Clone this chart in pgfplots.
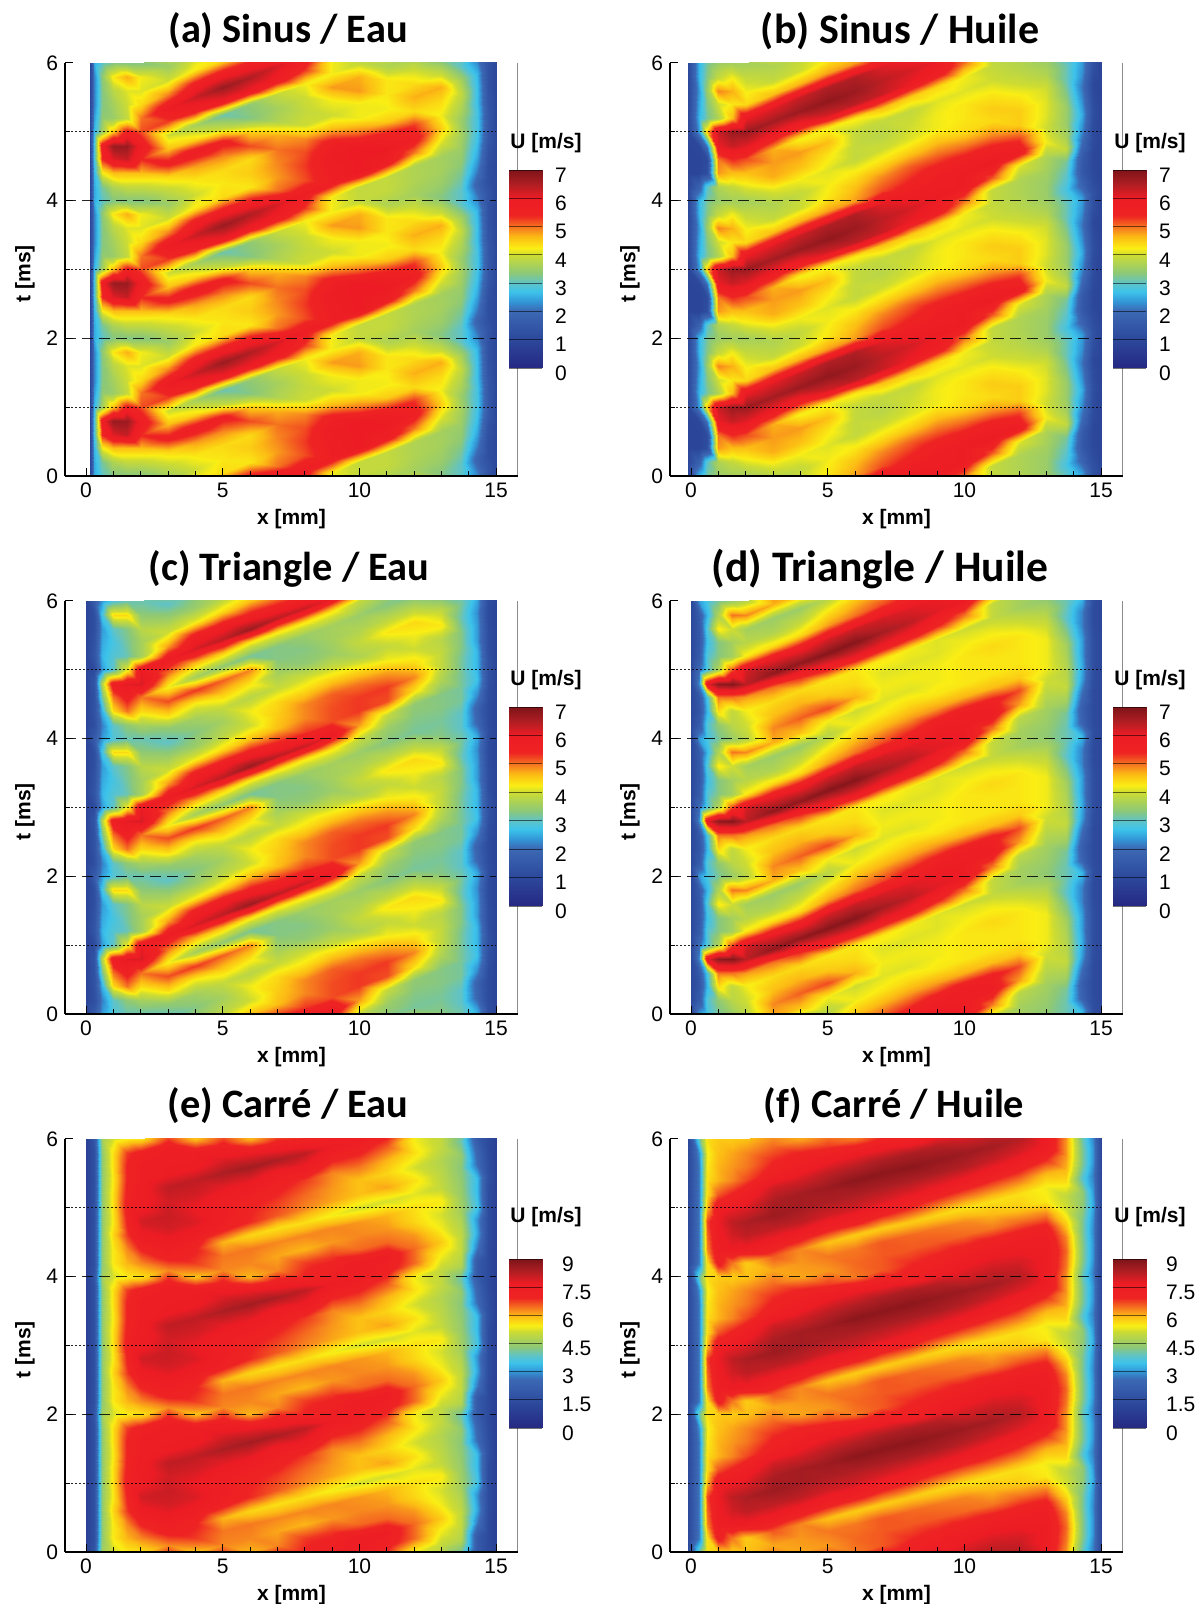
\documentclass[border=0pt]{standalone}
\usepackage{pgfplots}
\pgfplotsset{compat=1.18}
\usepackage{fontspec}
\setmainfont{Liberation Sans}
\newfontfamily\titlefont{Carlito}
\pgfplotsset{
  colormap={tec}{
    rgb255(0pt)=(38,40,130) rgb255(100pt)=(44,72,155) rgb255(203pt)=(60,105,180)
    rgb255(235pt)=(50,150,215) rgb255(270pt)=(60,195,235) rgb255(300pt)=(95,195,200)
    rgb255(335pt)=(140,200,120) rgb255(400pt)=(205,220,50) rgb255(424pt)=(250,238,20)
    rgb255(465pt)=(252,185,20) rgb255(490pt)=(247,135,30) rgb255(540pt)=(238,35,35)
    rgb255(600pt)=(237,28,36) rgb255(650pt)=(175,30,35) rgb255(700pt)=(125,20,25)},
  heat/.style={surf,shader=interp,point meta=explicit,mesh/cols=21},
  panel/.style={
    scale only axis,width=226.5pt,height=206.5pt,anchor=south west,
    xmin=-0.77,xmax=15.8,ymin=0,ymax=6,
    axis x line*=bottom,axis y line*=left,axis line style={-,line width=0.85pt},
    xtick={0,5,10,15},ytick={0,2,4,6},
    minor xtick={1,2,3,4,6,7,8,9,11,12,13,14},minor ytick={1,3,5},
    major tick length=4pt,minor tick length=2.5pt,
    tick style={black,line width=0.5pt},
    tick label style={font=\fontsize{10.5}{12}\selectfont},
    /pgf/number format/assume math mode=true,
    xlabel={x [mm]},ylabel={t [ms]},
    every axis x label/.style={at={(axis description cs:0.5,0)},anchor=center,yshift=-21.5pt,font=\fontsize{10.5}{12}\selectfont\bfseries},
    every axis y label/.style={at={(axis description cs:0,0.49)},anchor=center,rotate=90,yshift=20pt,font=\fontsize{10.5}{12}\selectfont\bfseries},
    axis on top,point meta min=0,colormap name=tec},
  cbar/.style={
    scale only axis,width=16.5pt,anchor=south west,
    xmin=0,xmax=1,xtick=\empty,
    axis x line*=bottom,axis y line*=right,
    axis line style={draw=none},
    colormap name=tec,
    major tick length=0pt,minor tick length=0pt,ymajorgrids,
    grid style={black,opacity=0.55,line width=0.4pt},
    tick label style={font=\fontsize{10.5}{12}\selectfont,yshift=-2.5pt},
    /pgf/number format/assume math mode=true,
    axis on top},
  hl/.style={black,opacity=0.85,line width=0.55pt},
  ln1/.style={hl,dash pattern=on 1pt off 1pt},
  ln2/.style={hl,dash pattern=on 5.5pt off 3pt},
}
% rows follow the slanted bands: a row read at s lies at t = s + k*max(x-2,0)
\newcommand\buildheat[4]{%
  \global\let#1\empty
  \foreach \off in {-2,0,2,4,6}{%
    \foreach \tz/\vals in {#4}{%
      \pgfmathsetmacro\T{\off+\tz}%
      \ifdim\T pt>6.01pt\else
        \foreach \v [count=\c from 0] in \vals {%
          \pgfmathparse{{#2}[\c]}\let\X\pgfmathresult
          \pgfmathsetmacro\Y{\T+#3*max(\X-2,0)}%
          \xdef#1{#1 (\X,\Y) [\v]}%
        }%
      \fi
    }%
  }%
}
\newcommand\plotheat[1]{\edef\temp{\noexpand\addplot[heat] coordinates {#1};}\temp}
\newcommand\guides{%
  \addplot[ln1] coordinates {(-0.7,1)(15,1)};
  \addplot[ln1] coordinates {(-0.7,3)(15,3)};
  \addplot[ln1] coordinates {(-0.7,5)(15,5)};
  \addplot[ln2] coordinates {(-0.77,2)(15,2)};
  \addplot[ln2] coordinates {(-0.77,4)(15,4)};
  \addplot[black!45,line width=0.5pt] coordinates {(15.78,0)(15.78,6)};
}
\buildheat{\dataA}{0.15,0.3,0.6,1,1.5,2,3,4,5,6,7,8,9,10,11,12,13,13.7,14.3,14.7,15}{0.15}{
0.0/{0.9,2.5,3.0,3.3,3.3,3.3,3.9,4.3,4.4,4.4,5.0,4.9,4.6,4.2,4.2,4.7,4.7,3.6,2.6,1.3,1.0},
0.2/{0.9,2.5,3.2,3.7,3.9,3.9,4.4,4.8,4.9,5.2,4.7,4.0,4.0,4.2,4.3,4.4,3.9,3.0,2.2,1.4,1.0},
0.4/{0.9,2.6,4.2,4.6,4.6,4.6,5.6,5.8,5.6,4.5,3.7,3.9,4.2,4.8,4.3,4.0,3.3,3.0,1.8,1.2,1.0},
0.6/{0.9,2.8,5.4,6.1,6.3,5.4,4.6,4.4,3.9,3.3,3.6,4.0,4.8,4.7,3.7,3.6,3.5,3.2,2.2,1.2,1.0},
0.8/{0.9,2.8,5.8,6.7,6.7,5.8,4.0,3.6,3.1,3.4,3.9,4.2,4.2,3.9,3.9,3.7,3.6,3.4,2.5,1.3,1.0},
1.0/{0.9,2.6,3.6,4.6,5.6,5.2,5.3,5.6,5.9,5.9,5.8,5.3,4.2,3.9,3.9,3.7,3.6,3.5,2.7,1.5,1.0},
1.2/{0.9,2.4,3.4,3.5,3.9,5.0,5.9,6.3,6.7,6.5,6.2,5.8,5.7,6.0,5.7,5.0,4.1,3.6,2.8,1.5,1.0},
1.4/{0.9,2.2,3.3,3.6,4.0,4.4,4.9,5.6,5.7,5.6,5.0,5.2,5.8,6.0,6.0,5.7,4.5,3.5,2.8,1.5,1.0},
1.6/{0.9,2.2,3.3,3.8,4.1,4.1,4.0,4.3,4.4,4.3,4.8,5.3,5.9,6.0,5.6,5.3,4.2,3.7,2.7,1.4,1.0},
1.8/{0.9,2.2,3.4,4.3,4.7,4.2,3.5,4.0,4.3,4.5,4.9,5.2,5.6,5.0,4.5,4.4,4.4,3.9,2.7,1.3,1.0}}
\buildheat{\dataB}{-0.1,0.3,0.6,1,1.5,2,3,4,5,6,7,8,9,10,11,12,13,13.7,14.3,14.7,15}{0.15}{
0.0/{1.0,2.6,3.2,3.5,3.6,3.6,4.1,4.2,4.1,3.9,4.0,4.1,4.2,4.3,4.5,4.3,4.0,3.1,2.3,1.2,0.9},
0.2/{1.0,1.8,3.0,3.7,3.9,4.1,4.7,4.6,4.3,3.9,3.8,4.0,4.2,4.3,4.3,4.0,3.7,3.1,2.4,1.3,1.0},
0.4/{0.9,0.9,1.2,4.8,4.6,4.6,4.8,4.8,4.6,3.9,3.9,3.9,4.1,4.1,4.0,3.8,3.5,2.8,1.8,1.1,0.9},
0.6/{0.9,0.9,1.1,5.0,5.4,5.2,4.7,4.2,4.2,4.3,4.6,4.5,4.4,4.2,3.9,3.7,3.5,3.0,1.5,1.0,0.9},
0.8/{0.9,1.0,2.2,6.0,6.3,6.1,5.9,5.8,6.2,6.4,6.3,6.0,5.8,5.0,3.9,3.7,3.6,3.2,1.6,1.0,0.9},
1.0/{1.0,2.4,4.6,6.3,6.7,6.7,6.6,6.7,6.8,6.7,6.4,6.2,6.0,5.9,5.2,4.1,3.7,3.9,2.0,1.1,0.9},
1.2/{1.0,2.6,3.2,3.7,4.6,6.0,6.1,6.3,6.5,6.5,6.1,5.8,5.8,5.9,6.0,5.8,4.2,3.6,2.3,1.1,0.9},
1.4/{1.0,2.5,3.3,4.0,4.3,4.4,4.6,4.7,4.8,4.8,5.2,5.4,5.6,5.6,5.6,5.3,4.0,3.5,2.5,1.2,0.9},
1.6/{1.0,2.4,3.5,4.9,4.7,4.2,3.9,4.0,4.3,4.6,4.9,5.1,5.1,5.0,4.9,4.5,4.1,3.5,2.3,1.1,0.9},
1.8/{1.0,2.6,3.3,3.9,4.2,3.9,3.7,3.9,4.2,4.3,4.4,4.5,4.6,4.4,4.4,4.5,4.1,3.3,2.1,1.0,0.9}}
\buildheat{\dataC}{0,0.3,0.6,1,1.5,2,3,4,5,6,7,8,9,10,11,12,13,13.7,14.3,14.7,15}{0.15}{
0.0/{0.9,1.6,2.4,2.9,3.1,3.1,3.4,3.6,3.9,3.8,3.9,4.0,3.9,3.7,3.9,4.2,4.3,3.1,2.3,1.1,0.9},
0.2/{0.9,1.2,2.2,3.0,3.4,3.6,4.4,4.2,4.5,4.3,3.6,3.4,3.5,3.9,4.3,4.4,3.9,3.2,2.5,1.2,0.9},
0.4/{0.9,1.3,2.6,4.4,5.0,4.4,5.2,5.3,5.1,4.9,3.3,3.3,3.6,3.7,3.8,3.8,3.3,3.0,1.9,1.1,0.9},
0.6/{0.9,1.3,3.2,5.0,5.6,5.0,4.2,3.6,3.4,3.2,3.3,3.5,3.6,3.5,3.3,3.2,3.2,3.0,1.8,1.1,0.9},
0.8/{0.9,1.4,3.8,5.8,6.1,6.2,5.0,4.6,4.5,4.3,4.3,4.3,4.3,3.9,3.5,3.3,3.3,3.2,2.3,1.2,0.9},
1.0/{0.9,1.1,2.4,3.0,4.2,6.0,5.9,6.2,6.4,6.7,6.4,6.3,6.0,4.8,3.9,3.4,3.3,3.2,2.7,1.3,0.9},
1.2/{0.9,1.4,2.6,2.9,3.1,3.6,4.8,5.6,5.7,5.6,5.4,5.3,5.2,5.3,5.2,4.4,3.7,3.2,2.6,1.3,0.9},
1.4/{0.9,1.3,2.5,2.8,3.2,3.6,4.0,4.2,4.4,4.6,4.6,4.9,5.2,5.3,5.3,4.9,3.9,3.2,2.6,1.2,0.9},
1.6/{0.9,1.2,2.4,3.0,3.3,3.8,3.5,3.5,3.8,4.0,4.5,4.9,5.1,5.0,4.8,4.4,3.9,3.3,2.4,1.2,0.9},
1.8/{0.9,1.2,2.8,4.4,4.4,3.4,3.0,3.3,3.6,4.2,4.4,4.4,4.5,4.4,4.2,4.0,3.8,3.3,2.4,1.1,0.9}}
\buildheat{\dataD}{0,0.3,0.6,1,1.5,2,3,4,5,6,7,8,9,10,11,12,13,13.7,14.3,14.7,15}{0.15}{
0.0/{1.0,2.4,2.8,3.2,3.5,3.8,4.9,5.1,5.2,4.7,4.2,4.2,4.2,4.3,4.4,4.3,4.0,3.0,2.2,1.1,1.0},
0.2/{1.0,1.6,2.9,3.4,3.8,4.0,4.6,4.7,4.5,4.4,4.1,4.1,4.1,4.2,4.2,4.0,3.7,3.1,2.6,1.2,1.0},
0.4/{1.0,1.4,2.6,4.4,3.9,4.2,4.4,4.4,4.3,4.3,4.3,4.2,4.1,4.0,3.9,3.6,3.4,3.1,1.8,1.1,1.0},
0.6/{1.0,1.5,2.8,5.0,5.0,4.8,5.0,5.4,5.8,6.0,5.9,5.8,5.5,5.0,3.9,3.6,3.5,3.2,1.7,1.1,1.0},
0.8/{1.0,2.3,6.0,6.8,6.9,6.4,6.8,6.8,6.9,6.9,6.6,6.4,6.1,6.0,5.0,3.8,3.6,3.6,2.0,1.1,1.0},
1.0/{1.0,2.0,2.9,3.7,5.2,6.2,6.0,5.9,6.2,6.3,6.2,6.1,6.0,5.9,5.8,4.8,3.8,3.9,2.4,1.2,1.0},
1.2/{1.0,1.6,2.9,3.3,3.6,4.3,4.4,4.4,4.8,5.0,5.2,5.4,5.6,5.7,5.6,5.2,4.0,3.8,2.5,1.2,1.0},
1.4/{1.0,1.5,2.7,3.3,3.6,3.8,3.7,3.9,4.3,4.6,4.7,4.8,4.8,4.7,4.6,4.5,4.2,3.7,2.4,1.2,1.0},
1.6/{1.0,1.5,2.9,4.3,4.0,3.6,3.5,3.5,3.8,4.2,4.3,4.4,4.3,4.3,4.3,4.3,4.2,3.6,2.4,1.2,1.0},
1.8/{1.0,1.6,2.6,3.7,5.0,4.9,4.7,4.6,4.2,4.0,4.1,4.1,4.2,4.3,4.3,4.3,4.2,3.3,2.2,1.1,1.0}}
\buildheat{\dataE}{0,0.3,0.6,1,1.5,2,3,4,5,6,7,8,9,10,11,12,13,13.7,14.3,14.7,15}{0.1}{
0.0/{1.0,1.8,4.6,5.2,5.5,5.6,6.3,6.8,6.4,6.4,6.3,6.3,6.3,6.2,6.0,5.6,5.5,4.5,3.4,1.5,1.0},
0.2/{1.0,1.6,4.4,5.5,6.0,6.3,7.2,7.0,6.0,5.7,5.6,5.6,5.4,5.2,5.2,5.3,5.0,4.4,3.4,1.6,1.0},
0.4/{1.0,1.6,4.4,5.5,6.3,7.0,7.6,7.5,7.2,6.9,6.6,6.3,6.1,5.9,6.1,5.6,4.9,4.3,2.6,1.5,1.0},
0.6/{1.0,1.6,4.4,5.7,6.8,7.6,8.0,7.9,7.4,7.0,6.8,6.5,6.2,5.9,5.7,5.2,4.8,4.4,2.4,1.4,1.0},
0.8/{1.0,1.6,4.4,5.5,7.0,8.0,8.1,7.7,7.4,7.3,7.1,6.8,6.3,6.4,6.0,5.6,5.0,4.0,2.0,1.4,1.0},
1.0/{1.0,1.6,4.4,5.6,7.2,7.6,8.0,8.0,7.8,7.8,7.5,7.6,7.0,7.0,6.6,5.4,5.0,4.8,2.0,1.4,1.0},
1.2/{1.0,1.6,4.4,5.6,7.1,7.5,8.2,8.2,8.4,8.5,8.4,8.2,7.6,7.5,7.2,6.5,5.4,5.0,2.8,1.4,1.0},
1.4/{1.0,1.6,4.4,5.5,7.0,7.4,7.6,7.6,7.9,7.7,7.4,7.0,7.2,7.5,7.4,6.5,5.8,5.0,3.2,1.5,1.0},
1.6/{1.0,1.6,4.4,5.6,7.0,7.4,7.5,7.5,7.2,6.0,6.3,6.8,6.8,6.5,6.5,6.2,5.4,4.8,3.0,1.5,1.0},
1.8/{1.0,1.6,4.4,5.6,6.8,7.2,7.3,5.9,6.3,6.3,6.1,6.0,6.2,6.3,6.2,5.7,5.2,4.6,3.6,1.5,1.0}}
\buildheat{\dataF}{-0.1,0.3,0.6,1,1.5,2,3,4,5,6,7,8,9,10,11,12,13,13.7,14.3,14.7,15}{0.1}{
0.0/{1.3,4.0,5.6,5.8,5.8,5.9,6.1,6.2,6.4,6.4,6.6,6.5,6.4,6.3,6.0,5.8,5.5,5.0,4.4,3.0,1.3},
0.2/{1.3,2.8,5.6,7.2,6.4,5.8,6.6,6.3,5.9,5.8,5.8,5.8,5.7,5.6,5.6,5.6,5.4,5.6,3.8,2.8,1.3},
0.4/{1.3,2.8,6.3,7.5,7.7,7.6,7.5,7.4,7.2,7.2,7.0,6.9,6.7,6.6,6.5,6.4,6.0,6.0,4.2,3.0,1.3},
0.6/{1.3,2.8,6.5,7.6,8.0,8.2,8.2,8.2,8.0,8.0,7.9,7.8,7.7,7.6,7.4,7.2,6.9,6.2,4.2,3.0,1.3},
0.8/{1.3,2.8,6.7,7.7,8.2,8.4,8.6,8.5,8.4,8.4,8.4,8.4,8.4,8.3,8.1,7.9,7.6,6.2,4.0,2.8,1.3},
1.0/{1.3,2.8,6.0,7.5,7.7,7.9,8.4,8.5,8.6,8.8,8.8,8.8,8.7,8.6,8.5,8.3,7.6,6.4,4.3,3.0,1.3},
1.2/{1.3,2.8,5.6,6.6,7.0,7.4,8.0,8.0,8.2,8.3,8.4,8.4,8.3,8.0,8.1,8.0,7.6,6.5,4.3,3.0,1.3},
1.4/{1.3,2.8,5.6,6.0,6.3,6.7,7.2,7.4,7.6,7.6,7.5,7.2,7.4,7.6,7.7,7.6,7.5,6.3,4.2,2.9,1.3},
1.6/{1.3,2.8,5.5,6.0,6.2,6.4,6.9,7.0,6.8,6.4,6.6,6.9,7.0,7.1,7.2,7.2,7.2,5.8,4.2,3.0,1.3},
1.8/{1.3,3.0,5.4,5.9,6.1,6.3,6.5,6.1,6.2,6.5,6.6,6.6,6.6,6.5,6.4,6.5,6.4,5.2,4.4,3.2,1.3}}
\begin{document}
\begin{tikzpicture}
\useasboundingbox (0pt,0pt) rectangle (598pt,802pt);
\begin{axis}[panel,at={(32.5pt,564pt)},point meta max=7]\plotheat{\dataA}\guides\end{axis}
\begin{axis}[panel,at={(335pt,564pt)},point meta max=7]\plotheat{\dataB}\guides\end{axis}
\begin{axis}[panel,at={(32.5pt,295pt)},point meta max=7]\plotheat{\dataC}\guides\end{axis}
\begin{axis}[panel,at={(335pt,295pt)},point meta max=7]\plotheat{\dataD}\guides\end{axis}
\begin{axis}[panel,at={(32.5pt,26pt)},point meta max=9]\plotheat{\dataE}\guides\end{axis}
\begin{axis}[panel,at={(335pt,26pt)},point meta max=9]\plotheat{\dataF}\guides\end{axis}
% colour bars
\begin{axis}[cbar,at={(254.5pt,618pt)},height=99pt,ymin=0,ymax=7,ytick={0,1,...,7},point meta min=0,point meta max=7,yticklabel style={xshift=3pt}]
\addplot[surf,shader=interp,point meta=explicit,mesh/cols=2] coordinates {(0,0) [0] (1,0) [0] (0,7) [7] (1,7) [7]};
\end{axis}
\begin{axis}[cbar,at={(556.5pt,618pt)},height=99pt,ymin=0,ymax=7,ytick={0,1,...,7},point meta min=0,point meta max=7,yticklabel style={xshift=3pt}]
\addplot[surf,shader=interp,point meta=explicit,mesh/cols=2] coordinates {(0,0) [0] (1,0) [0] (0,7) [7] (1,7) [7]};
\end{axis}
\begin{axis}[cbar,at={(254.5pt,349pt)},height=99.5pt,ymin=0,ymax=7,ytick={0,1,...,7},point meta min=0,point meta max=7,yticklabel style={xshift=3pt}]
\addplot[surf,shader=interp,point meta=explicit,mesh/cols=2] coordinates {(0,0) [0] (1,0) [0] (0,7) [7] (1,7) [7]};
\end{axis}
\begin{axis}[cbar,at={(556.5pt,349pt)},height=99.5pt,ymin=0,ymax=7,ytick={0,1,...,7},point meta min=0,point meta max=7,yticklabel style={xshift=3pt}]
\addplot[surf,shader=interp,point meta=explicit,mesh/cols=2] coordinates {(0,0) [0] (1,0) [0] (0,7) [7] (1,7) [7]};
\end{axis}
\begin{axis}[cbar,at={(254.5pt,88pt)},height=84.5pt,ymin=0,ymax=9,ytick={0,1.5,3,4.5,6,7.5,9},yticklabels={0,1.5,3,4.5,6,7.5,9},point meta min=0,point meta max=9,yticklabel style={xshift=6.5pt}]
\addplot[surf,shader=interp,point meta=explicit,mesh/cols=2] coordinates {(0,0) [0] (1,0) [0] (0,9) [9] (1,9) [9]};
\end{axis}
\begin{axis}[cbar,at={(556.5pt,88pt)},height=84.5pt,ymin=0,ymax=9,ytick={0,1.5,3,4.5,6,7.5,9},yticklabels={0,1.5,3,4.5,6,7.5,9},point meta min=0,point meta max=9,yticklabel style={xshift=6.5pt}]
\addplot[surf,shader=interp,point meta=explicit,mesh/cols=2] coordinates {(0,0) [0] (1,0) [0] (0,9) [9] (1,9) [9]};
\end{axis}
% colour-bar titles
\foreach \x/\y in {273/730.5,575/730.5,273/462,575/462,273/193.5,575/193.5}
  \node[font=\fontsize{10.5}{12}\selectfont\bfseries] at (\x pt,\y pt) {U [m/s]};
% panel titles
\node[font=\fontsize{20.2}{24}\titlefont\bfseries] at (144pt,786.5pt) {(a) Sinus / Eau};
\node[font=\fontsize{21}{24}\titlefont\bfseries] at (450pt,786.5pt) {(b) Sinus / Huile};
\node[font=\fontsize{20.2}{24}\titlefont\bfseries] at (144.5pt,517.5pt) {(c) Triangle / Eau};
\node[font=\fontsize{21.8}{24}\titlefont\bfseries] at (440pt,517.5pt) {(d) Triangle / Huile};
\node[font=\fontsize{20.2}{24}\titlefont\bfseries] at (144pt,249pt) {(e) Carré / Eau};
\node[font=\fontsize{20.2}{24}\titlefont\bfseries] at (447pt,249pt) {(f) Carré / Huile};
\end{tikzpicture}
\end{document}
